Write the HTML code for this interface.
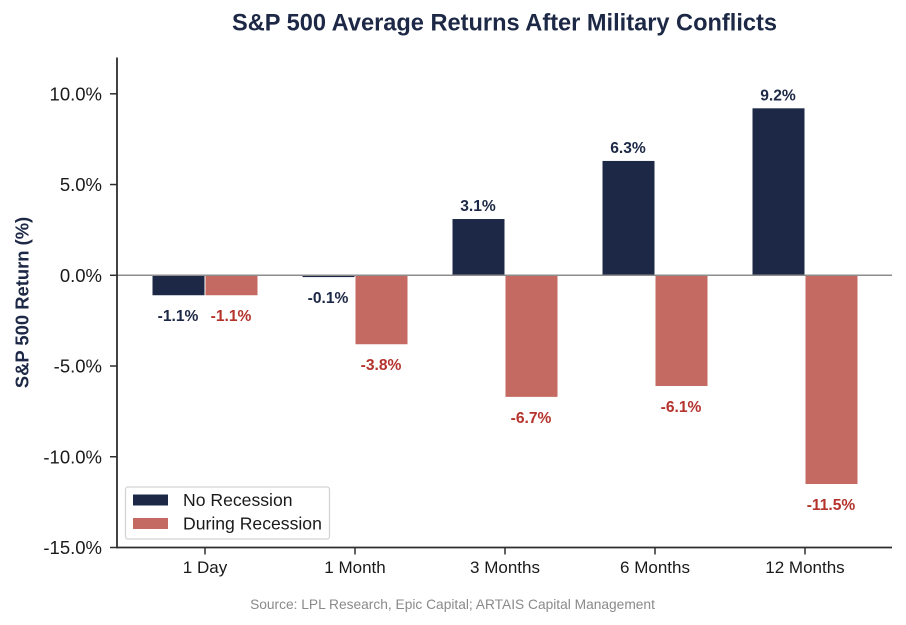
<!DOCTYPE html>
<html lang="en">
<head>
<meta charset="utf-8">
<title>S&amp;P 500 Average Returns After Military Conflicts</title>
<style>
html,body{margin:0;padding:0;background:#fff;}
body{width:906px;height:625px;overflow:hidden;}
svg{display:block;font-family:"Liberation Sans",Arial,sans-serif;filter:blur(0.35px);}
</style>
</head>
<body>
<svg id="chart" width="906" height="625" viewBox="0 0 906 625" xmlns="http://www.w3.org/2000/svg">
  <text x="504.5" y="30.5" text-anchor="middle" font-size="23.6" font-weight="700" fill="#1c2845">S&amp;P 500 Average Returns After Military Conflicts</text>
  <text transform="translate(28.5,302.5) rotate(-90)" text-anchor="middle" font-size="18.4" font-weight="700" fill="#1c2845">S&amp;P 500 Return (%)</text>
  <text x="452.5" y="609" text-anchor="middle" font-size="13.75" fill="#8a8a8a">Source: LPL Research, Epic Capital; ARTAIS Capital Management</text>
  <g id="plot"></g>
  <g>
    <rect x="125.5" y="487" width="204" height="52" rx="2.5" fill="#fff" fill-opacity="0.9" stroke="#d4d4d4" stroke-width="1.3"/>
    <rect x="133" y="494.5" width="35" height="11" fill="#1c2845"/>
    <text x="183" y="506" font-size="17.6" fill="#1a1a1a">No Recession</text>
    <rect x="133" y="518" width="35" height="11" fill="#c46a62"/>
    <text x="183" y="529.5" font-size="17.6" fill="#1a1a1a">During Recession</text>
  </g>
</svg>
<script>
const categories = ["1 Day", "1 Month", "3 Months", "6 Months", "12 Months"];
const noRecession = [-1.1, -0.1, 3.1, 6.3, 9.2];
const duringRecession = [-1.1, -3.8, -6.7, -6.1, -11.5];
const yTicks = [10, 5, 0, -5, -10, -15];
const yTickLabels = ["10.0%", "5.0%", "0.0%", "-5.0%", "-10.0%", "-15.0%"];

const NS = "http://www.w3.org/2000/svg";
const plot = document.getElementById("plot");
const NAVY = "#1c2845", RED = "#c46a62", RED_TEXT = "#b5332d", AXIS = "#2e2e2e";
const yMin = -15, yMax = 12;
const plotTop = 57.5, plotBottom = 547.5, plotLeft = 117, plotRight = 892;
const barWidth = 52;

function yScale(v) {
  return plotBottom - (v - yMin) / (yMax - yMin) * (plotBottom - plotTop);
}
function xScale(i) {
  return 205 + i * 150;
}
function make(tag, attrs, text) {
  const el = document.createElementNS(NS, tag);
  for (const k in attrs) el.setAttribute(k, attrs[k]);
  if (text !== undefined) el.textContent = text;
  plot.appendChild(el);
  return el;
}
function formatValue(v) {
  return v.toFixed(1) + "%";
}
function drawBar(i, v, side, color, labelColor, series) {
  const cx = xScale(i) + side * (barWidth / 2 + 0.5);
  const y0 = yScale(0), y1 = yScale(v);
  const bar = make("rect", {
    x: cx - barWidth / 2, y: Math.min(y0, y1),
    width: barWidth, height: Math.abs(y1 - y0), fill: color
  });
  
  
  const labelY = v >= 0 ? y1 - 8 : y1 + 26;
  const label = make("text", {
    x: cx - 0.5, y: labelY, "text-anchor": "middle",
    "font-size": 15.6, "font-weight": 700, fill: labelColor
  }, formatValue(v));
  
  
}

categories.forEach(function (c, i) {
  drawBar(i, noRecession[i], -1, NAVY, NAVY, 'no-recession');
  drawBar(i, duringRecession[i], 1, RED, RED_TEXT, 'during-recession');
});

const zeroLine = make("line", {
  x1: plotLeft, x2: plotRight, y1: yScale(0), y2: yScale(0),
  stroke: "#8c8c8c", "stroke-width": 1.5
});



const yAxis = make("line", {
  x1: plotLeft, x2: plotLeft, y1: plotTop, y2: plotBottom + 0.9,
  stroke: AXIS, "stroke-width": 1.8
});



const xAxis = make("line", {
  x1: plotLeft, x2: plotRight, y1: plotBottom, y2: plotBottom,
  stroke: AXIS, "stroke-width": 1.8
});



yTicks.forEach(function (t, i) {
  const y = yScale(t);
  const tick = make("line", {
    x1: plotLeft - 7, x2: plotLeft, y1: y, y2: y,
    stroke: AXIS, "stroke-width": 1.5
  });
  
  
  const label = make("text", {
    x: 102, y: y + 6.5, "text-anchor": "end",
    "font-size": 18.5, fill: "#1a1a1a"
  }, yTickLabels[i]);
  
  
});

categories.forEach(function (c, i) {
  const x = xScale(i);
  const tick = make("line", {
    x1: x, x2: x, y1: plotBottom, y2: plotBottom + 7,
    stroke: AXIS, "stroke-width": 1.5
  });
  
  
  const label = make("text", {
    x: x, y: 573, "text-anchor": "middle",
    "font-size": 17, fill: "#1a1a1a"
  }, c);
  
  
});
</script>
</body>
</html>
